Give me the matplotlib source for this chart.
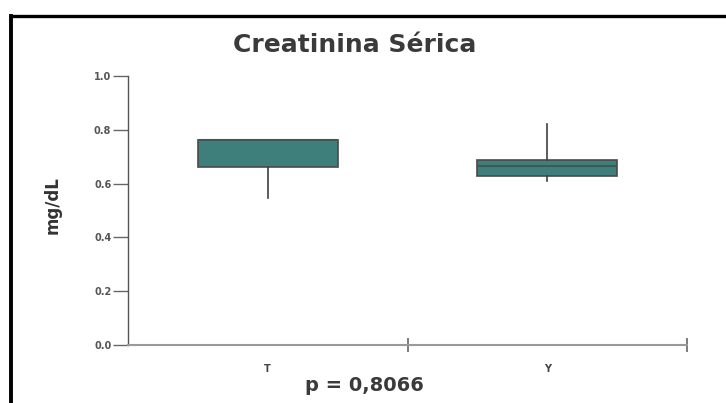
import matplotlib.pyplot as plt
from matplotlib.lines import Line2D

# box statistics per group (mg/dL)
groups = ["T", "Y"]
whislo = [0.546, 0.610]
q1 = [0.662, 0.628]
med = [0.762, 0.665]
q3 = [0.762, 0.688]
whishi = [0.762, 0.820]

y_ticks = [0.0, 0.2, 0.4, 0.6, 0.8, 1.0]
p_text = "p = 0,8066"

plt.rcParams["font.family"] = "DejaVu Sans"

fig = plt.figure(figsize=(7.26, 4.03), dpi=100)
ax = fig.add_axes([0.1763, 0.1439, 0.77, 0.6675])

stats = []
for i, g in enumerate(groups):
    stats.append({"label": g, "whislo": whislo[i], "q1": q1[i], "med": med[i],
                  "q3": q3[i], "whishi": whishi[i], "fliers": []})

pos = [0.5, 1.5]
ax.bxp(stats, positions=pos, widths=0.5, patch_artist=True, showcaps=False,
       showfliers=False,
       boxprops=dict(facecolor="#3f7f7b", edgecolor="#4a4a4a", linewidth=1.2),
       whiskerprops=dict(color="#404040", linewidth=1.2),
       medianprops=dict(color="#3a5957", linewidth=1.5))

ax.set_xlim(0, 2)
ax.set_ylim(0, 1.0)

# y axis
ax.set_yticks(y_ticks)
ax.set_yticklabels([f"{v:.1f}" for v in y_ticks])
ax.tick_params(axis="y", direction="out", length=11, width=1, color="#666666",
               labelsize=7, labelcolor="#555555", pad=1)
for lab in ax.get_yticklabels():
    lab.set_fontweight("bold")

# x axis: separator ticks at 1 and 2, group labels in the middle
ax.set_xticks([1, 2])
ax.set_xticklabels([])
ax.tick_params(axis="x", which="major", direction="inout", length=10,
               width=1.2, color="#666666")
ax.set_xticks(pos, minor=True)
ax.set_xticklabels(groups, minor=True, fontsize=7, fontweight="bold",
                   color="#444444")
ax.tick_params(axis="x", which="minor", length=0, pad=14)

ax.spines["top"].set_visible(False)
ax.spines["right"].set_visible(False)
ax.spines["left"].set_color("#555555")
ax.spines["left"].set_linewidth(1.0)
ax.spines["bottom"].set_color("#999999")
ax.spines["bottom"].set_linewidth(1.5)

fig.text(0.489, 0.889, "Creatinina Sérica", ha="center", va="center",
         fontsize=18, fontweight="bold", color="#3a3a3a")
fig.text(0.072, 0.491, "mg/dL", rotation=90, ha="center", va="center",
         fontsize=12, fontweight="bold", color="#333333")
fig.text(0.502, 0.043, p_text, ha="center", va="center",
         fontsize=14, fontweight="bold", color="#3a3a3a")

# frame lines along the top and left
fig.add_artist(Line2D([0.0152, 1.0], [0.9615, 0.9615], color="black",
                      linewidth=2.4, transform=fig.transFigure))
fig.add_artist(Line2D([0.0152, 0.0152], [0.0, 0.9615], color="black",
                      linewidth=2.8, transform=fig.transFigure))

fig.savefig("out.png", dpi=100)
